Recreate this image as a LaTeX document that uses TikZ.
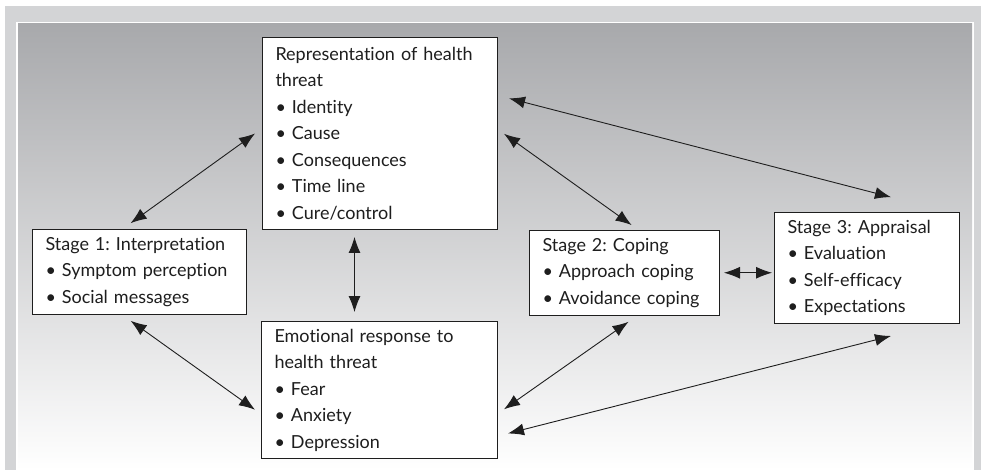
\documentclass[tikz,border=0pt]{standalone}
\usepackage{fontspec}
\setmainfont{Lato}[Ligatures=NoCommon]
\usepackage{tikz}
\usetikzlibrary{arrows.meta,calc}
\definecolor{frame}{HTML}{D3D4D6}
\definecolor{shadetop}{HTML}{A8A9AC}
\definecolor{shademid}{HTML}{D8D9DB}
\definecolor{ink}{HTML}{1E1E1E}
\newcommand{\boxfont}{\fontsize{18}{26.5}\selectfont\frenchspacing\hyphenpenalty=10000}

\begin{document}
\begin{tikzpicture}[x=1pt, y=-1pt,
    stagebox/.style={draw=ink, fill=white, line width=1pt, align=left,
      inner xsep=13pt, inner ysep=0pt, anchor=north west, text=ink, font=\boxfont},
    link/.style={<->, draw=ink, line width=0.9pt, >={Latex[length=16pt,width=12pt]}}]
  \useasboundingbox (0,0) rectangle (982,470);
  % background frame
  \fill[frame] (5,6) rectangle (981,470);
  \fill[white] (16,22) rectangle (974,470);
  \shade[top color=shadetop, middle color=shademid, bottom color=white]
    (18,24) rectangle (972,470);

  % boxes
  \node[stagebox, text width=209pt, minimum height=192pt] (rep) at (262,37) {
    Representation of health\\ threat\\ \textbullet\ Identity\\ \textbullet\ Cause\\
    \textbullet\ Consequences\\ \textbullet\ Time line\\ \textbullet\ Cure/control};
  \node[stagebox, text width=188pt, minimum height=85pt] (s1) at (32,229) {
    Stage 1: Interpretation\\ \textbullet\ Symptom perception\\ \textbullet\ Social messages};
  \node[stagebox, text width=210pt, minimum height=137pt] (emo) at (261,321) {
    Emotional response to\\ health threat\\ \textbullet\ Fear\\ \textbullet\ Anxiety\\
    \textbullet\ Depression};
  \node[stagebox, text width=164pt, minimum height=84.5pt] (s2) at (529,230) {
    Stage 2: Coping\\ \textbullet\ Approach coping\\ \textbullet\ Avoidance coping};
  \node[stagebox, text width=159pt, minimum height=111pt] (s3) at (774,212) {
    Stage 3: Appraisal\\ \textbullet\ Evaluation\\ \textbullet\ Self-efficacy\\
    \textbullet\ Expectations};

  % links
  \draw[link, shorten <=10pt, shorten >=8.6pt] ([xshift=-17pt]s1.north) -- ([yshift=5pt]rep.west);
  \draw[link, shorten <=10pt, shorten >=7.4pt] ([xshift=-17pt]s1.south) -- ([yshift=-24pt]emo.west);
  \draw[link, shorten <=7pt, shorten >=9pt] ([xshift=-25.5pt]rep.south) -- ([xshift=-25pt]emo.north);
  \draw[link, shorten <=7.4pt, shorten >=8.5pt] ([yshift=4pt]rep.east) -- ([xshift=14pt]s2.north);
  \draw[link, shorten <=11.4pt, shorten >=71.3pt] ([yshift=38pt]rep.east) -- ([yshift=-3pt]s3.north east);
  \draw[link, shorten <=4pt, shorten >=2pt] (s2.east) -- (s2.east -| s3.west);
  \draw[link, shorten <=11pt, shorten >=7.3pt] ([xshift=13pt]s2.south) -- ([yshift=-23.5pt]emo.east);
  \draw[link, shorten <=48.5pt, shorten >=10.3pt] ([xshift=-22pt]s3.south east) -- ([yshift=-46pt]emo.east);
\end{tikzpicture}
\end{document}
